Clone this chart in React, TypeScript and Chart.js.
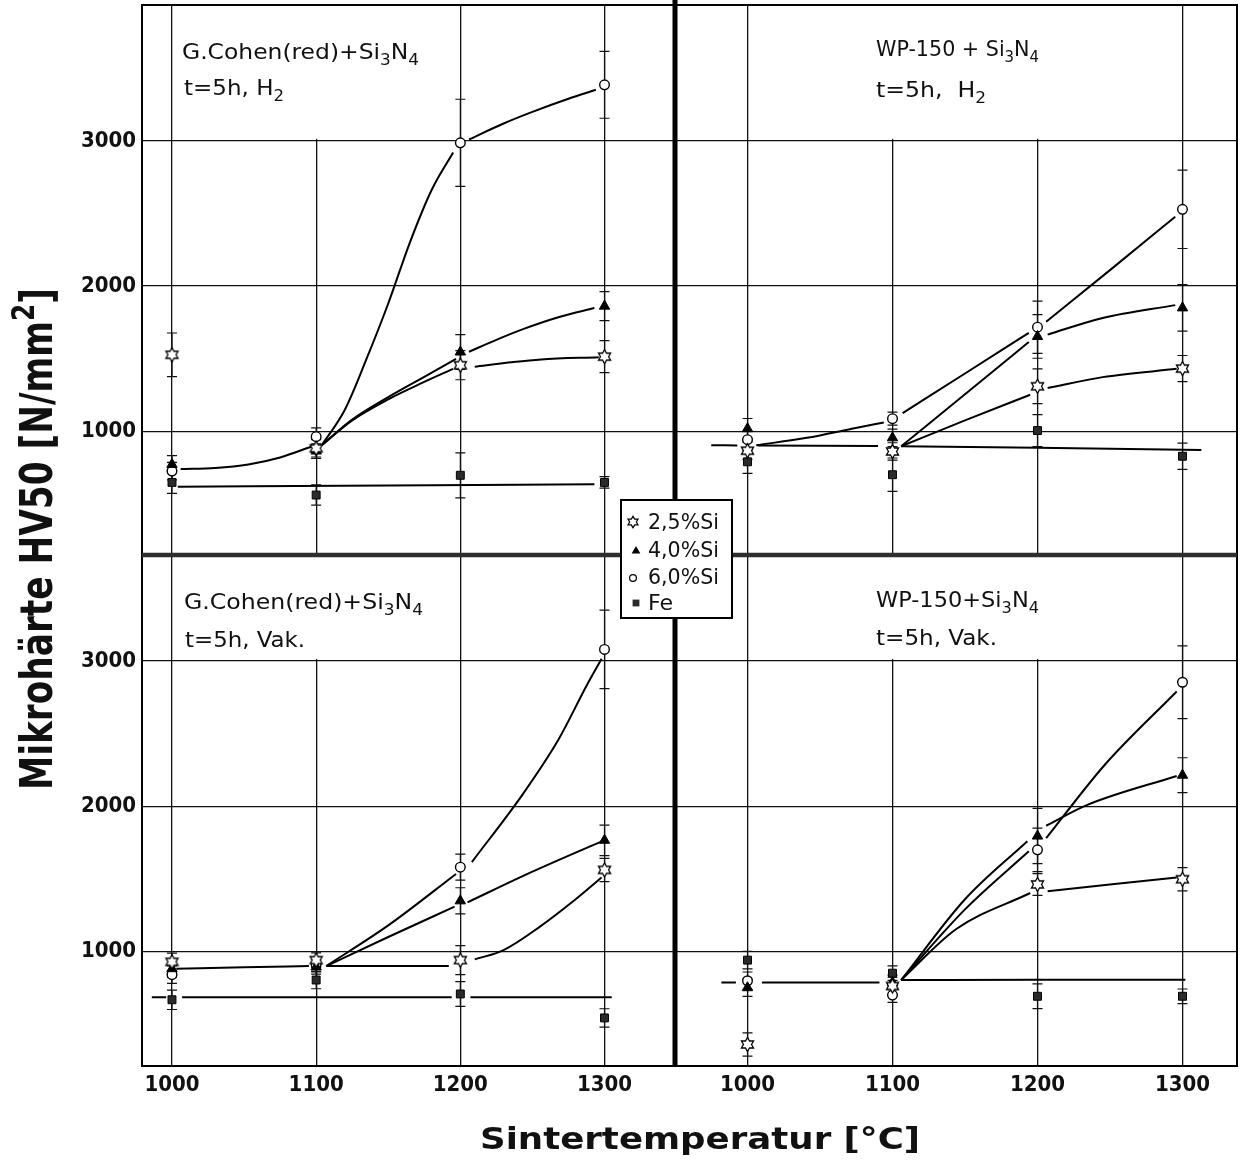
import React, { useEffect, useRef } from 'react';
import { Chart, registerables } from 'chart.js';

Chart.register(...registerables);

// ---------------- data ----------------
const TEMPS = [1000, 1100, 1200, 1300];
const Y_TICKS = [1000, 2000, 3000];
const SERIES_LABELS = ['2,5%Si', '4,0%Si', '6,0%Si', 'Fe'];

const X_TITLE = 'Sintertemperatur [°C]';
const Y_TITLE = 'Mikrohärte HV50 [N/mm^2]';

// '_' = next char subscript, '^' = next char superscript
const TL_TEXT = ['G.Cohen(red)+Si_3N_4', 't=5h, H_2'];
const TR_TEXT = ['WP-150 + Si_3N_4', 't=5h,  H_2'];
const BL_TEXT = ['G.Cohen(red)+Si_3N_4', 't=5h, Vak.'];
const BR_TEXT = ['WP-150+Si_3N_4', 't=5h, Vak.'];

// top-left: G.Cohen(red) + Si3N4, H2
const TL_SI25 = [1527, 883, 1455, 1514];
const TL_SI40 = [772, 864, 1546, 1862];
const TL_SI60 = [726, 963, 2987, 3386];
const TL_FE = [648, 561, 697, 648];
const TL_ERR_SI25 = [150, 60, 100, 110];
const TL_ERR_SI40 = [60, 50, 120, 100];
const TL_ERR_SI60 = [60, 60, 300, 230];
const TL_ERR_FE = [75, 70, 155, 40];
const TL_CURVE_BASE = [[[1006, 741], [1030, 748], [1053, 772], [1075, 820], [1097, 895]]];
const TL_CURVE_SI25 = [[[1104, 905], [1125, 1075], [1150, 1220], [1175, 1340], [1195, 1430]], [[1210, 1445], [1235, 1475], [1256, 1495], [1296, 1510]]];
const TL_CURVE_SI40 = [[[1104, 905], [1125, 1080], [1150, 1235], [1175, 1375], [1197, 1498]], [[1206, 1548], [1225, 1630], [1244, 1705], [1268, 1785], [1293, 1849]]];
const TL_CURVE_SI60 = [[[1104, 905], [1120, 1150], [1135, 1500], [1150, 1880], [1165, 2300], [1180, 2660], [1195, 2920]], [[1206, 3010], [1230, 3120], [1250, 3200], [1275, 3290], [1294, 3352]]];
const TL_CURVE_FE = [[[1004, 618], [1150, 627], [1293, 635]]];

// top-right: WP-150 + Si3N4, H2
const TR_SI25 = [866, 861, 1310, 1432];
const TR_SI40 = [1018, 955, 1653, 1850];
const TR_SI60 = [942, 1087, 1717, 2529];
const TR_FE = [790, 701, 1005, 828];
const TR_ERR_SI25 = [60, 60, 120, 90];
const TR_ERR_SI40 = [70, 60, 150, 160];
const TR_ERR_SI60 = [60, 45, 180, 270];
const TR_ERR_FE = [80, 115, 110, 90];
const TR_CURVE_FE = [[[975, 904], [993, 903]], [[1007, 902], [1090, 898]], [[1106, 897], [1200, 886], [1313, 872]]];
const TR_CURVE_SI25 = [[[1106, 897], [1150, 1075], [1195, 1252]], [[1207, 1298], [1245, 1373], [1296, 1430]]];
const TR_CURVE_SI40 = [[[1106, 897], [1150, 1255], [1194, 1615]], [[1207, 1666], [1245, 1780], [1295, 1869]]];
const TR_CURVE_SI60 = [[[1006, 904], [1041, 955], [1072, 1018], [1094, 1061]], [[1107, 1125], [1150, 1398], [1194, 1678]], [[1206, 1754], [1250, 2110], [1295, 2478]]];

// bottom-left: G.Cohen(red) + Si3N4, Vak.
const BL_SI25 = [929, 941, 941, 1562];
const BL_SI40 = [882, 894, 1349, 1766];
const BL_SI60 = [841, 910, 1581, 3080];
const BL_FE = [668, 804, 708, 543];
const BL_ERR_SI25 = [60, 50, 100, 80];
const BL_ERR_SI40 = [60, 50, 90, 105];
const BL_ERR_SI60 = [60, 50, 90, 270];
const BL_ERR_FE = [67, 60, 85, 63];
const BL_CURVE_BASE = [[[1003, 882], [1050, 891], [1095, 900]]];
const BL_CURVE_SI25 = [[[1107, 900], [1150, 900], [1192, 900]], [[1210, 946], [1230, 1010], [1255, 1170], [1280, 1360], [1298, 1510]]];
const BL_CURVE_SI40 = [[[1107, 900], [1150, 1100], [1196, 1309]], [[1205, 1339], [1250, 1550], [1298, 1759]]];
const BL_CURVE_SI60 = [[[1107, 900], [1150, 1180], [1197, 1534]], [[1208, 1616], [1243, 2079], [1268, 2458], [1288, 2838], [1298, 3015]]];
const BL_CURVE_FE = [[[986, 685], [996, 685]], [[1007, 685], [1194, 685]], [[1207, 685], [1305, 685]]];

// bottom-right: WP-150 + Si3N4, Vak.
const BR_SI25 = [360, 763, 1462, 1498];
const BR_SI40 = [751, 787, 1795, 2214];
const BR_SI60 = [799, 700, 1700, 2854];
const BR_FE = [941, 851, 692, 692];
const BR_ERR_SI25 = [80, 60, 75, 80];
const BR_ERR_SI40 = [60, 50, 190, 120];
const BR_ERR_SI60 = [60, 50, 150, 250];
const BR_ERR_FE = [60, 50, 85, 50];
const BR_CURVE_FE = [[[982, 787], [992, 787]], [[1010, 787], [1091, 787]], [[1106, 804], [1200, 805], [1302, 806]]];
const BR_CURVE_SI25 = [[[1106, 804], [1144, 1155], [1195, 1403]], [[1207, 1415], [1296, 1510]]];
const BR_CURVE_SI40 = [[[1106, 804], [1150, 1360], [1193, 1760]], [[1206, 1866], [1234, 2008], [1296, 2209]]];
const BR_CURVE_SI60 = [[[1106, 804], [1150, 1290], [1194, 1690]], [[1206, 1780], [1246, 2281], [1296, 2790]]];

// ---------------- layout / style ----------------
const FONT = "'DejaVu Sans Condensed', 'Liberation Sans Narrow', 'DejaVu Sans', sans-serif";

const PANELS = [
  { x: 'xL', y: 'yT', values: [TL_SI25, TL_SI40, TL_SI60, TL_FE], errors: [TL_ERR_SI25, TL_ERR_SI40, TL_ERR_SI60, TL_ERR_FE], curves: [TL_CURVE_BASE, TL_CURVE_SI25, TL_CURVE_SI40, TL_CURVE_SI60, TL_CURVE_FE], text: TL_TEXT, box: [1000, 1200], textPos: [[182, 59, 237], [184, 95, 100]] },
  { x: 'xR', y: 'yT', values: [TR_SI25, TR_SI40, TR_SI60, TR_FE], errors: [TR_ERR_SI25, TR_ERR_SI40, TR_ERR_SI60, TR_ERR_FE], curves: [TR_CURVE_FE, TR_CURVE_SI25, TR_CURVE_SI40, TR_CURVE_SI60], text: TR_TEXT, box: [1000, 1300], textPos: [[876, 56, 163], [876, 97, 110]] },
  { x: 'xL', y: 'yB', values: [BL_SI25, BL_SI40, BL_SI60, BL_FE], errors: [BL_ERR_SI25, BL_ERR_SI40, BL_ERR_SI60, BL_ERR_FE], curves: [BL_CURVE_BASE, BL_CURVE_SI25, BL_CURVE_SI40, BL_CURVE_SI60, BL_CURVE_FE], text: BL_TEXT, box: [1000, 1200], textPos: [[184, 609, 239], [185, 647, 120]] },
  { x: 'xR', y: 'yB', values: [BR_SI25, BR_SI40, BR_SI60, BR_FE], errors: [BR_ERR_SI25, BR_ERR_SI40, BR_ERR_SI60, BR_ERR_FE], curves: [BR_CURVE_FE, BR_CURVE_SI25, BR_CURVE_SI40, BR_CURVE_SI60], text: BR_TEXT, box: [1000, 1300], textPos: [[876, 607, 163], [876, 645, 121]] },
];

const LEGEND_BOX = { x: 621, y: 500, w: 111, h: 118 };
const LEGEND_ROWS = [
  { mx: 633, my: 522, ty: 529, tw: 71 },
  { mx: 636, my: 551, ty: 557, tw: 71 },
  { mx: 633, my: 578, ty: 584, tw: 71 },
  { mx: 636, my: 603, ty: 610, tw: 25 },
];

function parseRich(s: string) {
  const parts: { t: string; k: string }[] = [];
  let i = 0;
  while (i < s.length) {
    const c = s[i];
    if (c === '_' || c === '^') {
      parts.push({ t: s[i + 1], k: c });
      i += 2;
    } else {
      let j = i;
      while (j < s.length && s[j] !== '_' && s[j] !== '^') j++;
      parts.push({ t: s.slice(i, j), k: '' });
      i = j;
    }
  }
  return parts;
}

function drawRich(ctx: CanvasRenderingContext2D, s: string, x: number, y: number, width: number, size: number, weight = 'normal') {
  const parts = parseRich(s);
  const sub = size * 0.72;
  let total = 0;
  const widths = parts.map((p) => {
    ctx.font = `${weight} ${p.k ? sub : size}px ${FONT}`;
    const w = ctx.measureText(p.t).width;
    total += w;
    return w;
  });
  const sx = width / total;
  ctx.save();
  ctx.translate(x, y);
  ctx.scale(sx, 1);
  ctx.textAlign = 'left';
  ctx.textBaseline = 'alphabetic';
  ctx.fillStyle = '#111';
  let cx = 0;
  parts.forEach((p, i) => {
    ctx.font = `${weight} ${p.k ? sub : size}px ${FONT}`;
    const dy = p.k === '_' ? size * 0.3 : p.k === '^' ? -size * 0.42 : 0;
    ctx.fillText(p.t, cx, dy);
    cx += widths[i];
  });
  ctx.restore();
}

function starPath(g: CanvasRenderingContext2D, r: number) {
  const ri = r / Math.sqrt(3);
  g.beginPath();
  for (let k = 0; k < 12; k++) {
    const a = -Math.PI / 2 + (k * Math.PI) / 6;
    const rr = k % 2 === 0 ? r : ri;
    const px = Math.cos(a) * rr;
    const py = Math.sin(a) * rr;
    if (k === 0) g.moveTo(px, py);
    else g.lineTo(px, py);
  }
  g.closePath();
}

function makeStar(r: number, lw: number) {
  const c = document.createElement('canvas');
  const sz = Math.ceil(2 * r + 2 * lw + 2);
  c.width = sz;
  c.height = sz;
  const g = c.getContext('2d') as CanvasRenderingContext2D;
  g.translate(sz / 2, sz / 2);
  starPath(g, r);
  g.fillStyle = '#fff';
  g.fill();
  g.lineWidth = lw;
  g.strokeStyle = '#000';
  g.stroke();
  return c;
}

function drawLegendMarker(ctx: CanvasRenderingContext2D, kind: number, x: number, y: number) {
  ctx.save();
  ctx.translate(x, y);
  ctx.lineWidth = 1.2;
  ctx.strokeStyle = '#000';
  if (kind === 0) {
    starPath(ctx, 5.8);
    ctx.fillStyle = '#fff';
    ctx.fill();
    ctx.stroke();
  } else if (kind === 1) {
    const r = 5;
    ctx.beginPath();
    ctx.moveTo(0, -r);
    ctx.lineTo(r * 0.866, r * 0.5);
    ctx.lineTo(-r * 0.866, r * 0.5);
    ctx.closePath();
    ctx.fillStyle = '#000';
    ctx.fill();
  } else if (kind === 2) {
    ctx.beginPath();
    ctx.arc(0, 0, 3.4, 0, Math.PI * 2);
    ctx.fillStyle = '#fff';
    ctx.fill();
    ctx.stroke();
  } else {
    ctx.fillStyle = '#2a2a2a';
    ctx.fillRect(-3.4, -3.4, 6.8, 6.8);
  }
  ctx.restore();
}

function markerStyle(si: number, star: HTMLCanvasElement) {
  if (si === 0) return { pointStyle: star, pointRadius: 7, pointBackgroundColor: '#fff', pointBorderColor: '#000', pointBorderWidth: 1.3 };
  if (si === 1) return { pointStyle: 'triangle', pointRadius: 6, pointBackgroundColor: '#000', pointBorderColor: '#000', pointBorderWidth: 1 };
  if (si === 2) return { pointStyle: 'circle', pointRadius: 4.8, pointBackgroundColor: '#fff', pointBorderColor: '#000', pointBorderWidth: 1.4 };
  return { pointStyle: 'rect', pointRadius: 5.6, pointBackgroundColor: '#2a2a2a', pointBorderColor: '#000', pointBorderWidth: 1 };
}

function curveData(segs: number[][][]) {
  const out: { x: number; y: number | null }[] = [];
  segs.forEach((seg, i) => {
    if (i > 0) {
      const prev = segs[i - 1][segs[i - 1].length - 1];
      out.push({ x: (prev[0] + seg[0][0]) / 2, y: null });
    }
    seg.forEach(([x, y]) => out.push({ x, y }));
  });
  return out;
}

const figurePlugin = {
  id: 'figure',
  beforeDatasetsDraw(chart: any) {
    const ctx: CanvasRenderingContext2D = chart.ctx;
    ctx.save();
    ctx.fillStyle = '#fff';
    PANELS.forEach((p) => {
      const xs = chart.scales[p.x];
      const ys = chart.scales[p.y];
      const l = xs.getPixelForValue(p.box[0]) + 3;
      const r = xs.getPixelForValue(p.box[1]) - 3;
      const t = ys.top + 1;
      const b = ys.getPixelForValue(3000) - 2;
      ctx.fillRect(l, t, r - l, b - t);
    });
    ctx.strokeStyle = '#111';
    ctx.lineWidth = 1.2;
    chart.data.datasets.forEach((ds: any) => {
      if (!ds.errors) return;
      const xs = chart.scales[ds.xAxisID];
      const ys = chart.scales[ds.yAxisID];
      ds.data.forEach((pt: any, j: number) => {
        const e = ds.errors[j];
        const px = xs.getPixelForValue(pt.x);
        const y1 = ys.getPixelForValue(pt.y + e);
        const y2 = ys.getPixelForValue(pt.y - e);
        ctx.beginPath();
        ctx.moveTo(px, y1);
        ctx.lineTo(px, y2);
        ctx.moveTo(px - 5, y1);
        ctx.lineTo(px + 5, y1);
        ctx.moveTo(px - 5, y2);
        ctx.lineTo(px + 5, y2);
        ctx.stroke();
      });
    });
    ctx.restore();
  },
  afterDraw(chart: any) {
    const ctx: CanvasRenderingContext2D = chart.ctx;
    const a = chart.chartArea;
    ctx.save();
    // frame
    ctx.strokeStyle = '#000';
    ctx.lineWidth = 2;
    ctx.strokeRect(a.left, a.top, a.right - a.left, a.bottom - a.top);
    // separators
    const sepX = chart.scales.xL.right;
    const sepY = chart.scales.yT.bottom;
    ctx.strokeStyle = '#2e2e2e';
    ctx.lineWidth = 4.5;
    ctx.beginPath();
    ctx.moveTo(a.left, sepY);
    ctx.lineTo(a.right, sepY);
    ctx.stroke();
    ctx.strokeStyle = '#000';
    ctx.lineWidth = 5;
    ctx.beginPath();
    ctx.moveTo(sepX, 0);
    ctx.lineTo(sepX, a.bottom);
    ctx.stroke();
    // panel texts
    PANELS.forEach((p) => {
      p.text.forEach((t, i) => {
        const [x, y, w] = p.textPos[i];
        drawRich(ctx, t, x, y, w, 21);
      });
    });
    // legend
    const lb = LEGEND_BOX;
    ctx.fillStyle = '#fff';
    ctx.fillRect(lb.x, lb.y, lb.w, lb.h);
    ctx.strokeStyle = '#000';
    ctx.lineWidth = 2;
    ctx.strokeRect(lb.x, lb.y, lb.w, lb.h);
    LEGEND_ROWS.forEach((row, i) => {
      drawLegendMarker(ctx, i, row.mx, row.my);
      drawRich(ctx, SERIES_LABELS[i], 648, row.ty, row.tw, 21);
    });
    // axis titles
    drawRich(ctx, X_TITLE, 480, 1149, 440, 31, 'bold');
    ctx.save();
    ctx.translate(52, 539);
    ctx.rotate(-Math.PI / 2);
    drawRich(ctx, Y_TITLE, -251, 0, 502, 44, 'bold');
    ctx.restore();
    ctx.restore();
  },
};

const tickFont = { family: FONT, size: 22, weight: 'bold' as const };

function zeroPadding(s: any) {
  s.paddingTop = 0;
  s.paddingBottom = 0;
  s.paddingLeft = 0;
  s.paddingRight = 0;
}

function xScale(min: number, max: number, order: number, stackWeight: number) {
  return {
    type: 'linear',
    position: 'bottom',
    stack: 'xs',
    stackWeight,
    weight: order,
    min,
    max,
    afterBuildTicks: (s: any) => {
      s.ticks = TEMPS.map((v) => ({ value: v }));
    },
    afterFit: (s: any) => {
      s.height = 98;
      zeroPadding(s);
    },
    ticks: { font: tickFont, color: '#111', padding: 6, maxRotation: 0, autoSkip: false, callback: (v: any) => String(v) },
    grid: { color: '#111', lineWidth: 1.3, drawTicks: false },
    border: { display: false },
  };
}

function yScale(min: number, max: number, order: number, stackWeight: number) {
  return {
    type: 'linear',
    position: 'left',
    stack: 'ys',
    stackWeight,
    weight: order,
    min,
    max,
    afterBuildTicks: (s: any) => {
      s.ticks = Y_TICKS.map((v) => ({ value: v }));
    },
    afterFit: (s: any) => {
      s.width = 142;
      zeroPadding(s);
    },
    ticks: { font: tickFont, color: '#111', padding: 6, autoSkip: false, callback: (v: any) => String(v) },
    grid: { color: '#111', lineWidth: 1.3, drawTicks: false },
    border: { display: false },
  };
}

export default function App() {
  const ref = useRef<HTMLCanvasElement>(null);
  useEffect(() => {
    const canvas = ref.current;
    if (!canvas) return;
    const star = makeStar(7, 1.3);
    const datasets: any[] = [];
    PANELS.forEach((p) => {
      p.values.forEach((vals, si) => {
        datasets.push({
          label: SERIES_LABELS[si],
          xAxisID: p.x,
          yAxisID: p.y,
          data: TEMPS.map((t, i) => ({ x: t, y: vals[i] })),
          errors: p.errors[si],
          showLine: false,
          order: 0,
          borderColor: '#000',
          ...markerStyle(si, star),
        });
      });
      p.curves.forEach((segs) => {
        datasets.push({
          xAxisID: p.x,
          yAxisID: p.y,
          data: curveData(segs as number[][][]),
          showLine: true,
          pointRadius: 0,
          borderColor: '#000',
          borderWidth: 2,
          cubicInterpolationMode: 'monotone',
          spanGaps: false,
          fill: false,
          order: 1,
        });
      });
    });
    const chart = new Chart(canvas, {
      type: 'line',
      data: { datasets },
      plugins: [figurePlugin],
      options: {
        responsive: false,
        animation: false,
        devicePixelRatio: 1,
        events: [],
        layout: { autoPadding: false, padding: { top: 5, right: 3, left: 0, bottom: 0 } },
        plugins: { legend: { display: false }, tooltip: { enabled: false } },
        scales: {
          xL: xScale(979.2, 1348.9, 1, 533),
          xR: xScale(950, 1337.6, 2, 562),
          yT: yScale(148, 3936, 2, 550),
          yB: yScale(212, 3730, 1, 511),
        },
      } as any,
    } as any);
    return () => chart.destroy();
  }, []);
  return (
    <div style={{ position: 'absolute', left: 0, top: 0, width: 1240, height: 1164, background: '#fff' }}>
      <canvas ref={ref} width={1240} height={1164} style={{ display: 'block' }} />
    </div>
  );
}
